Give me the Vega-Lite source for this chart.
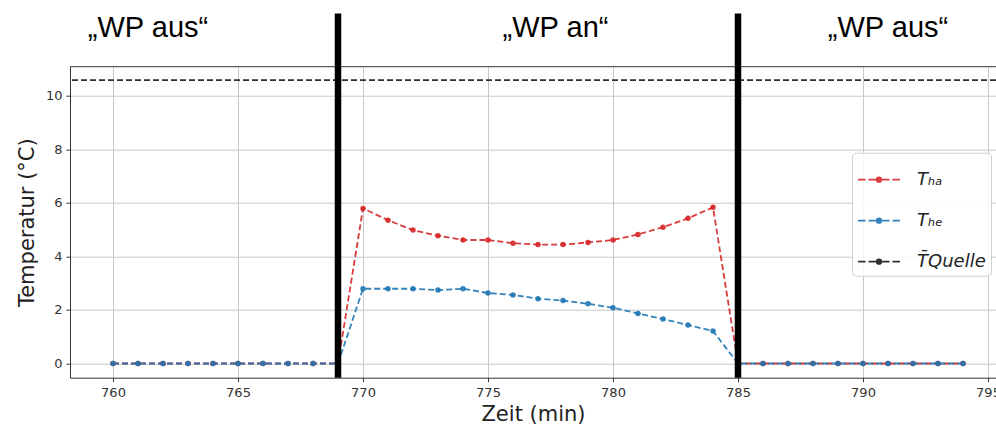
{
  "$schema": "https://vega.github.io/schema/vega-lite/v6.json",
  "width": 926,
  "height": 311,
  "autosize": {"type": "none"},
  "padding": {"left": 70, "top": 66.7, "right": 0, "bottom": 50.3},
  "background": "white",
  "config": {
    "view": {"stroke": null},
    "axis": {
      "domainColor": "#333333",
      "domainWidth": 1,
      "tickColor": "#333333",
      "tickSize": 4,
      "tickWidth": 1,
      "labelFont": "DejaVu Sans",
      "labelFontSize": 13,
      "labelColor": "#333333",
      "gridColor": "#c8c8c8",
      "gridWidth": 1,
      "titleFont": "DejaVu Sans",
      "titleFontSize": 21,
      "titleFontWeight": "normal",
      "titleColor": "#222222"
    }
  },
  "datasets": {
    "temps": [
      {"t": 760, "s": "Tₕₐ", "v": 0}, {"t": 761, "s": "Tₕₐ", "v": 0}, {"t": 762, "s": "Tₕₐ", "v": 0},
      {"t": 763, "s": "Tₕₐ", "v": 0}, {"t": 764, "s": "Tₕₐ", "v": 0}, {"t": 765, "s": "Tₕₐ", "v": 0},
      {"t": 766, "s": "Tₕₐ", "v": 0}, {"t": 767, "s": "Tₕₐ", "v": 0}, {"t": 768, "s": "Tₕₐ", "v": 0},
      {"t": 769, "s": "Tₕₐ", "v": 0}, {"t": 770, "s": "Tₕₐ", "v": 5.79}, {"t": 771, "s": "Tₕₐ", "v": 5.35},
      {"t": 772, "s": "Tₕₐ", "v": 4.98}, {"t": 773, "s": "Tₕₐ", "v": 4.77}, {"t": 774, "s": "Tₕₐ", "v": 4.61},
      {"t": 775, "s": "Tₕₐ", "v": 4.61}, {"t": 776, "s": "Tₕₐ", "v": 4.49}, {"t": 777, "s": "Tₕₐ", "v": 4.44},
      {"t": 778, "s": "Tₕₐ", "v": 4.44}, {"t": 779, "s": "Tₕₐ", "v": 4.52}, {"t": 780, "s": "Tₕₐ", "v": 4.61},
      {"t": 781, "s": "Tₕₐ", "v": 4.82}, {"t": 782, "s": "Tₕₐ", "v": 5.09}, {"t": 783, "s": "Tₕₐ", "v": 5.42},
      {"t": 784, "s": "Tₕₐ", "v": 5.83}, {"t": 785, "s": "Tₕₐ", "v": 0}, {"t": 786, "s": "Tₕₐ", "v": 0},
      {"t": 787, "s": "Tₕₐ", "v": 0}, {"t": 788, "s": "Tₕₐ", "v": 0}, {"t": 789, "s": "Tₕₐ", "v": 0},
      {"t": 790, "s": "Tₕₐ", "v": 0}, {"t": 791, "s": "Tₕₐ", "v": 0}, {"t": 792, "s": "Tₕₐ", "v": 0},
      {"t": 793, "s": "Tₕₐ", "v": 0}, {"t": 794, "s": "Tₕₐ", "v": 0},
      {"t": 760, "s": "Tₕₑ", "v": 0}, {"t": 761, "s": "Tₕₑ", "v": 0}, {"t": 762, "s": "Tₕₑ", "v": 0},
      {"t": 763, "s": "Tₕₑ", "v": 0}, {"t": 764, "s": "Tₕₑ", "v": 0}, {"t": 765, "s": "Tₕₑ", "v": 0},
      {"t": 766, "s": "Tₕₑ", "v": 0}, {"t": 767, "s": "Tₕₑ", "v": 0}, {"t": 768, "s": "Tₕₑ", "v": 0},
      {"t": 769, "s": "Tₕₑ", "v": 0}, {"t": 770, "s": "Tₕₑ", "v": 2.79}, {"t": 771, "s": "Tₕₑ", "v": 2.79},
      {"t": 772, "s": "Tₕₑ", "v": 2.79}, {"t": 773, "s": "Tₕₑ", "v": 2.74}, {"t": 774, "s": "Tₕₑ", "v": 2.79},
      {"t": 775, "s": "Tₕₑ", "v": 2.63}, {"t": 776, "s": "Tₕₑ", "v": 2.56}, {"t": 777, "s": "Tₕₑ", "v": 2.42},
      {"t": 778, "s": "Tₕₑ", "v": 2.35}, {"t": 779, "s": "Tₕₑ", "v": 2.23}, {"t": 780, "s": "Tₕₑ", "v": 2.08},
      {"t": 781, "s": "Tₕₑ", "v": 1.87}, {"t": 782, "s": "Tₕₑ", "v": 1.66}, {"t": 783, "s": "Tₕₑ", "v": 1.44},
      {"t": 784, "s": "Tₕₑ", "v": 1.21}, {"t": 785, "s": "Tₕₑ", "v": 0}, {"t": 786, "s": "Tₕₑ", "v": 0},
      {"t": 787, "s": "Tₕₑ", "v": 0}, {"t": 788, "s": "Tₕₑ", "v": 0}, {"t": 789, "s": "Tₕₑ", "v": 0},
      {"t": 790, "s": "Tₕₑ", "v": 0}, {"t": 791, "s": "Tₕₑ", "v": 0}, {"t": 792, "s": "Tₕₑ", "v": 0},
      {"t": 793, "s": "Tₕₑ", "v": 0}, {"t": 794, "s": "Tₕₑ", "v": 0},
      {"t": 758, "s": "T̄Quelle", "v": 10.58}, {"t": 796, "s": "T̄Quelle", "v": 10.58}
    ],
    "switches": [{"t": 769}, {"t": 785}],
    "phases": [
      {"t": 761.4, "label": "„WP aus“"},
      {"t": 777.7, "label": "„WP an“"},
      {"t": 791.0, "label": "„WP aus“"}
    ]
  },
  "layer": [
    {
      "data": {"name": "temps"},
      "mark": {"type": "line", "strokeDash": [6, 3], "strokeWidth": 1.8, "opacity": 0.9, "clip": true},
      "encoding": {
        "x": {
          "field": "t", "type": "quantitative",
          "scale": {"domain": [758.28, 795.32], "nice": false, "zero": false},
          "axis": {"title": "Zeit (min)", "values": [760, 765, 770, 775, 780, 785, 790, 795], "labelPadding": 5, "titlePadding": 4, "labelFlush": false}
        },
        "y": {
          "field": "v", "type": "quantitative",
          "scale": {"domain": [-0.53, 11.08], "nice": false, "zero": false},
          "axis": {"title": "Temperatur (°C)", "values": [0, 2, 4, 6, 8, 10], "labelPadding": 4, "titlePadding": 8}
        },
        "color": {
          "field": "s", "type": "nominal", "sort": null,
          "scale": {"domain": ["Tₕₐ", "Tₕₑ", "T̄Quelle"], "range": ["#d62728", "#1f77b4", "#1a1a1a"]},
          "legend": {
            "title": null,
            "orient": "none",
            "legendX": 782,
            "legendY": 86,
            "direction": "vertical",
            "symbolType": "M-1,0H-0.64M-0.5,0H-0.15M0.15,0H0.5M0.64,0H1M0.11,0A0.11,0.11,0,1,1,-0.11,0A0.11,0.11,0,1,1,0.11,0",
            "symbolSize": 1764,
            "symbolStrokeWidth": 1.7,
            "symbolOpacity": 0.9,
            "symbolDash": [100, 0],
            "labelFont": "DejaVu Sans",
            "labelFontSize": 18,
            "labelFontStyle": "italic",
            "labelColor": "#222222",
            "labelOffset": 16,
            "rowPadding": 10,
            "padding": 5,
            "cornerRadius": 4,
            "strokeColor": "#d0d0d0",
            "fillColor": "rgba(255,255,255,0.85)"
          }
        }
      }
    },
    {
      "data": {"name": "temps"},
      "transform": [{"filter": "datum.s !== 'T̄Quelle'"}],
      "mark": {"type": "point", "filled": true, "size": 30, "opacity": 0.9, "clip": true},
      "encoding": {
        "x": {"field": "t", "type": "quantitative"},
        "y": {"field": "v", "type": "quantitative"},
        "color": {"field": "s", "type": "nominal", "sort": null}
      }
    },
    {
      "data": {"values": [{}]},
      "mark": {"type": "rule", "color": "#333333", "strokeWidth": 1},
      "encoding": {"y": {"datum": 11.08}}
    },
    {
      "data": {"name": "switches"},
      "mark": {"type": "rule", "color": "#000000", "strokeWidth": 6.5, "clip": false},
      "encoding": {
        "x": {"field": "t", "type": "quantitative"},
        "y": {"datum": -0.53},
        "y2": {"datum": 13.07}
      }
    },
    {
      "data": {"name": "phases"},
      "mark": {"type": "text", "font": "Liberation Sans", "fontSize": 29, "align": "center", "baseline": "alphabetic", "color": "#000000", "clip": false},
      "encoding": {
        "x": {"field": "t", "type": "quantitative"},
        "y": {"datum": 12.2},
        "text": {"field": "label"}
      }
    }
  ]
}
